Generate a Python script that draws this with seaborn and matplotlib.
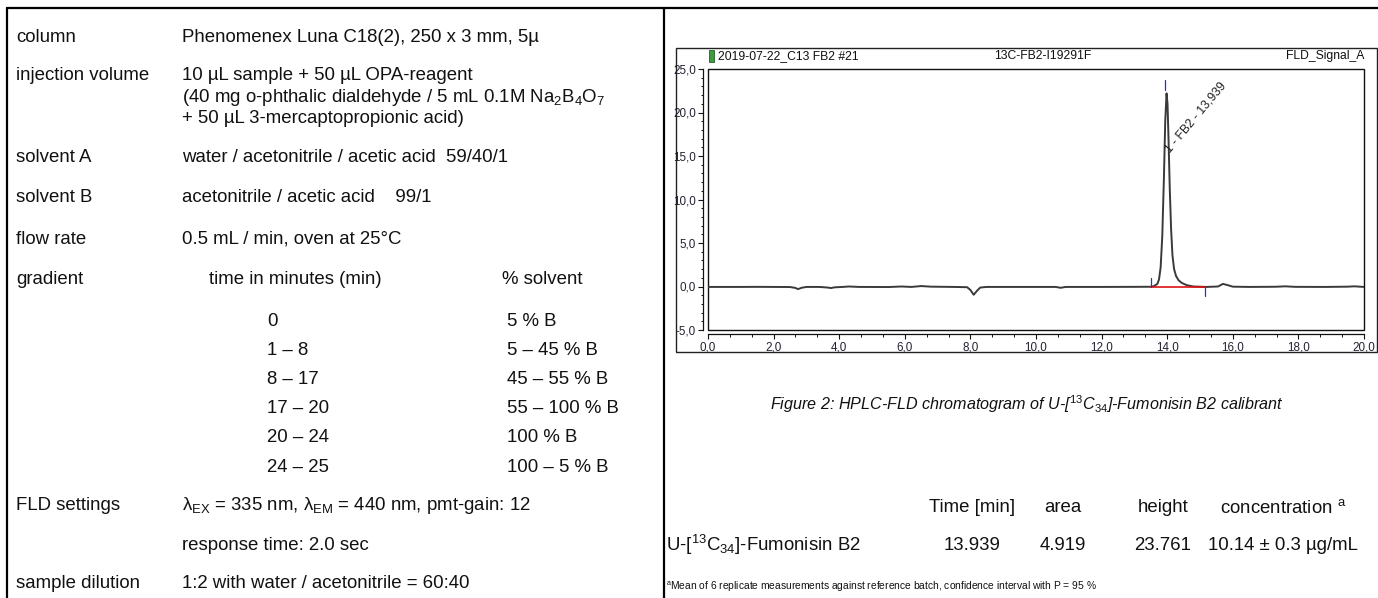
import numpy as np
import pandas as pd
import matplotlib
matplotlib.use("Agg")
import matplotlib.pyplot as plt
import seaborn as sns
from matplotlib import font_manager
from matplotlib.patches import Rectangle
from matplotlib.lines import Line2D
from matplotlib.ticker import MultipleLocator, FuncFormatter

# ---------------- data ----------------
row_labels = ["column", "injection volume", "solvent A", "solvent B", "flow rate",
              "gradient", "FLD settings", "sample dilution"]
column_value = "Phenomenex Luna C18(2), 250 x 3 mm, 5µ"
injection_lines = ["10 µL sample + 50 µL OPA-reagent",
                   "(40 mg o-phthalic dialdehyde / 5 mL 0.1M Na$_2$B$_4$O$_7$",
                   "+ 50 µL 3-mercaptopropionic acid)"]
solvent_a = "water / acetonitrile / acetic acid  59/40/1"
solvent_b = "acetonitrile / acetic acid    99/1"
flow_rate = "0.5 mL / min, oven at 25°C"
gradient_headers = ["time in minutes (min)", "% solvent"]
grad_time = ["0", "1 – 8", "8 – 17", "17 – 20", "20 – 24", "24 – 25"]
grad_solvent = ["5 % B", "5 – 45 % B", "45 – 55 % B", "55 – 100 % B", "100 % B", "100 – 5 % B"]
fld_lines = [r"λ$_{\mathrm{EX}}$ = 335 nm, λ$_{\mathrm{EM}}$ = 440 nm, pmt-gain: 12",
             "response time: 2.0 sec"]
dilution = "1:2 with water / acetonitrile = 60:40"

chrom_header = ["2019-07-22_C13 FB2 #21", "13C-FB2-I19291F", "FLD_Signal_A"]
time_min = [0.00, 0.50, 1.00, 1.50, 2.00, 2.50, 2.65, 2.75, 2.85, 3.00, 3.40, 3.65, 3.75,
            3.85, 4.10, 4.30, 4.60, 5.50, 5.90, 6.20, 6.50, 6.80, 7.50, 7.90, 8.00, 8.10,
            8.20, 8.30, 8.50, 9.50, 10.60, 10.75, 10.90, 12.00, 13.00, 13.50, 13.60, 13.70,
            13.75, 13.80, 13.85, 13.90, 13.94, 13.98, 14.01, 14.04, 14.08, 14.12, 14.16,
            14.21, 14.27, 14.35, 14.45, 14.60, 14.80, 15.20, 15.55, 15.70, 15.85, 16.00,
            16.50, 17.30, 17.60, 17.90, 18.80, 19.50, 19.70, 20.00]
signal = [-0.05, -0.05, -0.05, -0.04, -0.05, -0.06, -0.15, -0.30, -0.15, -0.05, -0.05, -0.12,
          -0.18, -0.10, -0.05, 0.00, -0.05, -0.06, 0.00, -0.05, 0.05, -0.02, -0.05, -0.08,
          -0.40, -0.95, -0.50, -0.12, -0.05, -0.05, -0.05, -0.15, -0.05, -0.05, -0.04, -0.03,
          0.05, 0.30, 0.80, 2.20, 5.80, 12.50, 19.00, 22.20, 21.00, 17.00, 11.00, 6.50, 3.60,
          2.00, 1.20, 0.70, 0.40, 0.15, 0.00, -0.05, 0.00, 0.30, 0.15, -0.02, -0.05, -0.03,
          0.02, -0.04, -0.05, -0.02, 0.02, -0.05]
peak_label = "1 - FB2 - 13,939"
peak_rt = 13.939
marker_times = [13.50, 13.94, 15.16]
marker_low = [0.0, 22.6, -1.1]
marker_high = [1.0, 23.7, -0.1]
baseline_times = [13.50, 15.16]
baseline_vals = [-0.05, -0.05]

caption = ("Figure 2: HPLC-FLD chromatogram of U-[$^{\\mathit{13}}$$\\mathit{C}_{\\mathit{34}}$]"
           "-Fumonisin B2 calibrant")
result_headers = ["Time [min]", "area", "height", "concentration $^{\\mathrm{a}}$"]
result_name = "U-[$^{13}$C$_{34}$]-Fumonisin B2"
result_values = ["13.939", "4.919", "23.761", "10.14 ± 0.3 µg/mL"]
footnote = "$^{\\mathrm{a}}$Mean of 6 replicate measurements against reference batch, confidence interval with P = 95 %"

# ---------------- style ----------------
sns.set_style("white")
plt.rcParams["font.family"] = ["Liberation Sans", "DejaVu Sans"]
plt.rcParams["mathtext.fontset"] = "custom"
plt.rcParams["mathtext.rm"] = "Liberation Sans"
plt.rcParams["mathtext.it"] = "Liberation Sans:italic"
plt.rcParams["mathtext.bf"] = "Liberation Sans:bold"

_names = {f.name for f in font_manager.fontManager.ttflist}
if "Liberation Sans Narrow" in _names:
    NARROW, NSCALE = ["Liberation Sans Narrow", "DejaVu Sans"], 1.0
else:
    NARROW, NSCALE = ["Liberation Sans", "DejaVu Sans"], 0.84

W, H = 1378, 598
fig = plt.figure(figsize=(W / 100, H / 100), dpi=100)
fig.patch.set_facecolor("white")


def fx(x):
    return x / W


def fy(y):
    return 1 - y / H


def T(x, y, s, size=13.4, **kw):
    kw.setdefault("va", "center")
    kw.setdefault("ha", "left")
    kw.setdefault("color", "#111111")
    fig.text(fx(x), fy(y), s, fontsize=size, **kw)


# table borders
for (x0, y0, x1, y1) in [(7, 8, 1378, 8), (7, 8, 7, 598), (664, 8, 664, 598)]:
    fig.add_artist(Line2D([fx(x0), fx(x1)], [fy(y0), fy(y1)], color="black", lw=1.6,
                          transform=fig.transFigure))

# ---------------- left table ----------------
LX, VX = 16, 182
label_y = [37, 76, 158, 198, 239, 279, 506, 583]
for lab, y in zip(row_labels, label_y):
    T(LX, y, lab)
T(VX, 37, column_value)
for s, y in zip(injection_lines, [76, 97.5, 118.5]):
    T(VX, y, s)
T(VX, 158, solvent_a)
T(VX, 198, solvent_b)
T(VX, 239, flow_rate)
T(209, 279, gradient_headers[0])
T(502, 279, gradient_headers[1])
for i, (gt, gs) in enumerate(zip(grad_time, grad_solvent)):
    y = 321 + i * 29.2
    T(267, y, gt)
    T(507, y, gs)
T(VX, 506, fld_lines[0])
T(VX, 545, fld_lines[1])
T(VX, 583, dilution)

# ---------------- chromatogram ----------------
fig.add_artist(Rectangle((fx(676), fy(352)), fx(701), 304 / H, fill=False,
                         edgecolor="#222222", lw=1.0, transform=fig.transFigure))
fig.add_artist(Rectangle((fx(709), fy(62)), fx(5), 12 / H, facecolor="#3f9b3f",
                         edgecolor="#2a5f2a", lw=0.6, transform=fig.transFigure))
HS = 10.4 * NSCALE
T(718, 56, chrom_header[0], size=HS, family=NARROW)
T(1043, 56, chrom_header[1], size=HS, family=NARROW, ha="center")
T(1364, 56, chrom_header[2], size=HS, family=NARROW, ha="right")

ax = fig.add_axes([fx(708), fy(330), 656 / W, 261 / H])
df = pd.DataFrame({"time": time_min, "signal": signal})
sns.lineplot(data=df, x="time", y="signal", ax=ax, color="#3a3a3a", lw=1.4,
             estimator=None, sort=False)
ax.set_xlim(0, 20)
ax.set_ylim(-5, 25)
ax.set_xlabel("")
ax.set_ylabel("")
ax.set_facecolor("white")

# red baseline + blue markers
ax.plot(baseline_times, baseline_vals, color="#e01010", lw=1.2)
for t, lo, hi in zip(marker_times, marker_low, marker_high):
    ax.plot([t, t], [lo, hi], color="#2a2ae0", lw=0.9)
ax.text(peak_rt + 0.06, 15.6, peak_label, rotation=50, rotation_mode="anchor",
        ha="left", va="center", fontsize=10.4 * NSCALE, color="#222222", family=NARROW)

# frame
ax.add_patch(Rectangle((0, 0), 1, 1, transform=ax.transAxes, fill=False,
                       edgecolor="#111111", lw=1.0, clip_on=False))
for s in ["top", "right"]:
    ax.spines[s].set_visible(False)
ax.spines["left"].set_position(("outward", 3.6))
ax.spines["bottom"].set_position(("outward", 3.0))
for s in ["left", "bottom"]:
    ax.spines[s].set_visible(True)
    ax.spines[s].set_color("#111111")
    ax.spines[s].set_linewidth(0.9)

fmt = FuncFormatter(lambda v, p: f"{v:.1f}".replace(".", ","))
ax.xaxis.set_major_locator(MultipleLocator(2))
ax.xaxis.set_minor_locator(MultipleLocator(2 / 3))
ax.yaxis.set_major_locator(MultipleLocator(5))
ax.yaxis.set_minor_locator(MultipleLocator(1))
ax.xaxis.set_major_formatter(fmt)
ax.yaxis.set_major_formatter(fmt)
ax.tick_params(axis="both", which="major", direction="out", length=3.5, width=0.8,
               color="#111111", labelsize=10.0 * NSCALE, labelcolor="#222233", pad=1.5,
               bottom=True, left=True)
ax.tick_params(axis="both", which="minor", direction="out", length=1.8, width=0.7,
               color="#111111", bottom=True, left=True)
for lab in ax.get_xticklabels() + ax.get_yticklabels():
    lab.set_family(NARROW)

# ---------------- caption & results ----------------
T(1027, 404, caption, size=11.6, ha="center", style="italic")
for s, x in zip(result_headers, [972, 1063, 1163, 1283]):
    T(x, 508, s, ha="center")
T(666, 545, result_name)
for s, x in zip(result_values, [972, 1063, 1163, 1283]):
    T(x, 545, s, ha="center")
T(666, 587, footnote, size=7.4)

fig.savefig("out.png", dpi=100)
